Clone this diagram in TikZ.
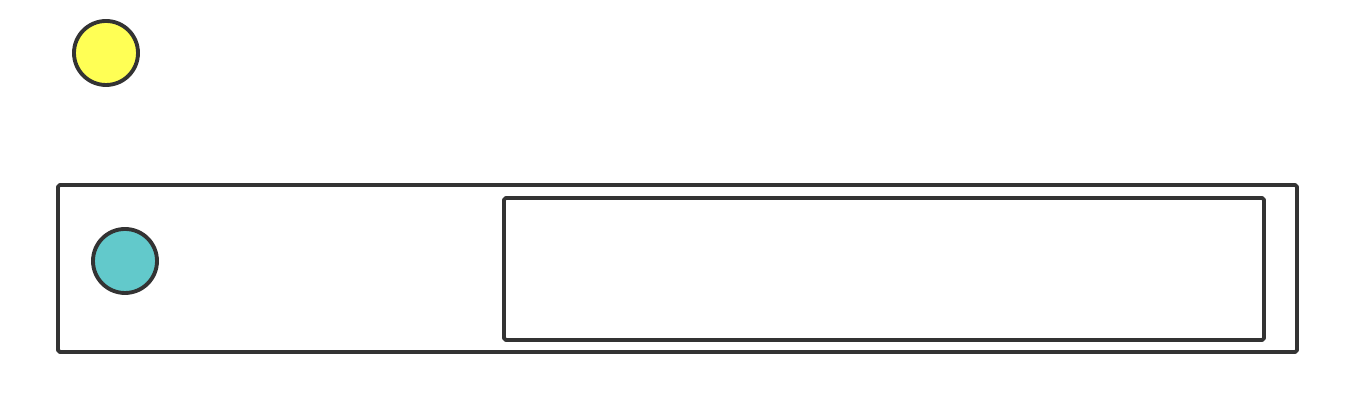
\documentclass[tikz,border=0pt]{standalone}
\usepackage{tikz}

\definecolor{inkgrey}{HTML}{333333}
\definecolor{sunyellow}{HTML}{FFFF55}
\definecolor{seateal}{HTML}{62C9CB}

\tikzstyle{outline}=[draw=inkgrey, line width=1.1pt, line join=round]
\tikzstyle{ball}=[circle, outline, minimum size=0.64cm, inner sep=0pt]

\begin{document}
\begin{tikzpicture}
				\useasboundingbox (0,0) rectangle (13.56,-4.14);

				% Loose ball above the box
				\node[ball, fill=sunyellow] (sun) at (1.06,-0.53) {};

				% Outer frame and inner panel
				\draw[outline, rounded corners=0.5pt] (0.58,-1.85) rectangle (12.97,-3.52);
				\draw[outline, rounded corners=0.5pt] (5.04,-1.98) rectangle (12.64,-3.40);

				% Ball inside the frame
				\node[ball, fill=seateal] (sea) at (1.25,-2.61) {};
			\end{tikzpicture}
\end{document}
